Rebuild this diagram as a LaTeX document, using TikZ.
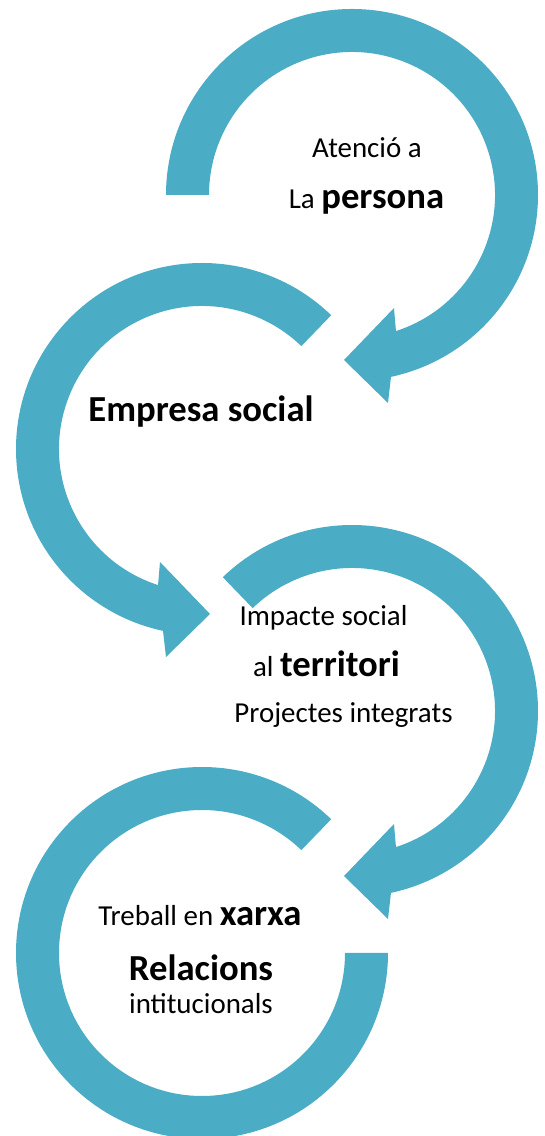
\documentclass[tikz,border=0pt]{standalone}
\usepackage{fontspec}
\setmainfont{Carlito}
\definecolor{arcblue}{HTML}{4BACC6}
\newcommand{\rgtxt}{\fontsize{21.7}{26}\selectfont\mdseries}
\newcommand{\bdtxt}{\fontsize{27.5}{33}\selectfont\bfseries}
\begin{document}
\begin{tikzpicture}[x=0.75pt,y=0.75pt,
  band/.style={fill=arcblue,draw=none},
  lbl/.style={anchor=base,inner sep=0pt,text=black}]
\useasboundingbox (0,0) rectangle (544,1136);
% circle 1 (top right)
\fill[band,shift={(352,941)}] (180:186) arc[start angle=180,end angle=-77.9,radius=186]
  -- (36,-208) -- (-8,-165) -- (42,-113) -- (-72.1:143)
  arc[start angle=-72.1,end angle=180,radius=143] -- cycle;
% circle 2 (left)
\fill[band,shift={(202,687)}] (46:186) arc[start angle=46,end angle=257.9,radius=186]
  -- (-36,-208) -- (8,-165) -- (-42,-113) -- (252.1:143)
  arc[start angle=252.1,end angle=46,radius=143] -- cycle;
% circle 3 (right)
\fill[band,shift={(352,425)}] (134:186) arc[start angle=134,end angle=-77.9,radius=186]
  -- (36,-208) -- (-8,-165) -- (42,-113) -- (-72.1:143)
  arc[start angle=-72.1,end angle=134,radius=143] -- cycle;
% circle 4 (bottom left)
\fill[band,shift={(202,183)}] (46:186) arc[start angle=46,end angle=360,radius=186]
  -- (0:143) arc[start angle=360,end angle=46,radius=143] -- cycle;
% texts
\node[lbl] (t1a) at (367,978) {\rgtxt Atenció a};
\node[lbl] (t1b) at (366.5,927) {\rgtxt La \bdtxt persona};
\node[lbl] (t2) at (201,714) {\bdtxt Empresa social};
\node[lbl] (t3a) at (323.5,510) {\rgtxt Impacte social};
\node[lbl] (t3b) at (326.5,459) {\rgtxt al \bdtxt territori};
\node[lbl] (t3c) at (343.5,413) {\rgtxt Projectes integrats};
\node[lbl] (t4a) at (200,210) {\rgtxt Treball en \bdtxt xarxa};
\node[lbl] (t4b) at (201,155) {\bdtxt Relacions};
\node[lbl] (t4c) at (201,122) {\rgtxt intitucionals};
\end{tikzpicture}
\end{document}
